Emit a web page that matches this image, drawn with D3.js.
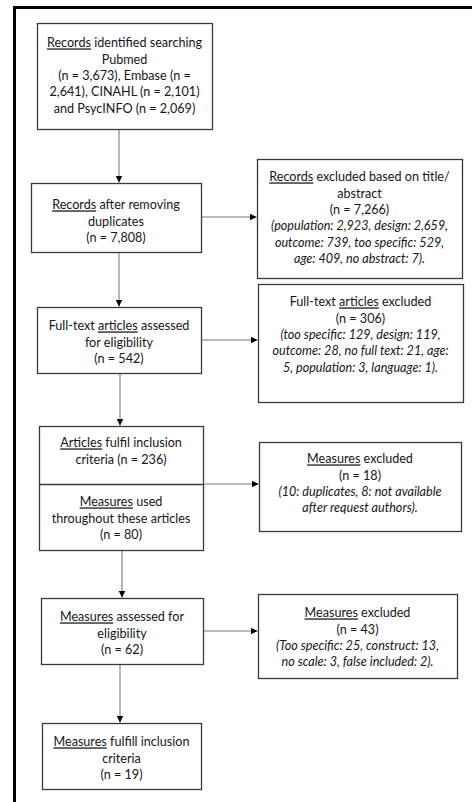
<!DOCTYPE html>
<html>
<head>
<meta charset="utf-8">
<script src="https://cdn.jsdelivr.net/npm/d3@7/dist/d3.min.js"></script>
<style>
  html, body { margin: 0; padding: 0; background: #fff; }
  svg { display: block; }
  text { font-family: Lato, "Open Sans", sans-serif; font-size: 12.6px; fill: #161616; }
</style>
</head>
<body>
<svg id="chart" width="472" height="802"></svg>
<script>
// ---- Data: box texts (markup: _word_ = underlined, lines starting with "~" = italic)
const searchSources = ["Pubmed", "Embase", "CINAHL", "PsycINFO"];
const searchCounts = ["3,673", "2,641", "2,101", "2,069"];
const stageCounts = ["7,808", "542", "236", "80", "62", "19"];
const excludedCounts = ["7,266", "306", "18", "43"];

const mainTexts = [
  ["_Records_ identified searching", "Pubmed", "(n = 3,673), Embase (n =", "2,641), CINAHL (n = 2,101)", "and PsycINFO (n = 2,069)"],
  ["_Records_ after removing", "duplicates", "(n = 7,808)"],
  ["Full-text _articles_ assessed", "for eligibility", "(n = 542)"],
  ["_Articles_ fulfil inclusion", "criteria (n = 236)"],
  ["_Measures_ assessed for", "eligibility", "(n = 62)"],
  ["_Measures_ fulfill inclusion", "criteria", "(n = 19)"]
];
const subTexts = [
  ["_Measures_ used", "throughout these articles", "(n = 80)"]
];
const sideTexts = [
  ["_Records_ excluded based on title/", "abstract", "(n = 7,266)",
   "~(population: 2,923, design: 2,659,", "~outcome: 739, too specific: 529,", "~age: 409, no abstract: 7)."],
  ["Full-text _articles_ excluded", "(n = 306)",
   "~(too specific: 129, design: 119,", "~outcome: 28, no full text: 21, age:", "~5, population: 3, language: 1)."],
  ["_Measures_ excluded", "(n = 18)", "~(10: duplicates, 8: not available", "~after request authors)."],
  ["_Measures_ excluded", "(n = 43)", "~(Too specific: 25, construct: 13,", "~no scale: 3, false included: 2)."]
];

// ---- Layout (positions/sizes kept separate from data)
const mainLayout = [
  {x: 37, y: 23,  w: 175, h: 106, t: 43},
  {x: 31, y: 183, w: 170, h: 69,  t: 205},
  {x: 37, y: 307, w: 164, h: 66,  t: 326},
  {x: 39, y: 426, w: 164, h: 124, t: 443, divider: 484, sub: 502},
  {x: 41, y: 598, w: 162, h: 66,  t: 617},
  {x: 42, y: 723, w: 159, h: 66,  t: 742}
];
const sideLayout = [
  {x: 257, y: 159, w: 205, h: 119, t: 177, from: 1, ay: 217},
  {x: 258, y: 284, w: 205, h: 118, t: 302, from: 2, ay: 340},
  {x: 259, y: 442, w: 202, h: 89,  t: 459, from: 3, ay: 484},
  {x: 258, y: 594, w: 199, h: 84,  t: 613, from: 4, ay: 631}
];
const downX = [119, 119, 120, 122, 120];
const LH = 16.3;

const svg = d3.select("#chart");

// outer frame (cropped at right/bottom)
svg.append("path")
  .attr("d", d3.line()([[14.5, 802], [14.5, 7.5], [472, 7.5]]))
  .attr("fill", "none").attr("stroke", "#000").attr("stroke-width", 3);

// arrow marker
svg.append("defs").append("marker")
  .attr("id", "arr").attr("viewBox", "0 0 10 10")
  .attr("refX", 10).attr("refY", 5)
  .attr("markerWidth", 7).attr("markerHeight", 7)
  .attr("markerUnits", "userSpaceOnUse")
  .attr("orient", "auto")
  .append("path").attr("d", "M0,0L10,5L0,10Z").attr("fill", "#000");

const line = d3.line();
const conn = svg.append("g").attr("fill", "none").attr("stroke", "#7a7a7a").attr("stroke-width", 1.1);

// vertical arrows
downX.forEach((x, i) => {
  const a = mainLayout[i], b = mainLayout[i + 1];
  conn.append("path").attr("d", line([[x, a.y + a.h], [x, b.y - 0.5]])).attr("marker-end", "url(#arr)");
});
// horizontal arrows
sideLayout.forEach(s => {
  const a = mainLayout[s.from];
  conn.append("path").attr("d", line([[a.x + a.w, s.ay], [s.x - 0.5, s.ay]])).attr("marker-end", "url(#arr)");
});

function drawLines(g, lines, cx, y0) {
  lines.forEach((ln, i) => {
    let italic = false;
    if (ln.startsWith("~")) { italic = true; ln = ln.slice(1); }
    const t = g.append("text")
      .attr("x", cx).attr("y", y0 + i * LH).attr("dy", "0.35em")
      .attr("text-anchor", "middle")
      .style("font-style", italic ? "italic" : "normal");
    const parts = ln.split(/(_[^_]+_)/).filter(p => p.length);
    parts.forEach(p => {
      const u = p.startsWith("_") && p.endsWith("_");
      t.append("tspan").text(u ? p.slice(1, -1) : p)
        .style("text-decoration", u ? "underline" : "none");
    });
  });
}

function drawBox(b) {
  svg.append("rect")
    .attr("x", b.x + 0.5).attr("y", b.y + 0.5).attr("width", b.w).attr("height", b.h)
    .attr("fill", "#fff").attr("stroke", "#3a3a3a").attr("stroke-width", 1.3);
}

mainLayout.forEach((b, i) => {
  drawBox(b);
  const cx = b.x + b.w / 2;
  drawLines(svg, mainTexts[i], cx, b.t);
  if (b.divider) {
    svg.append("path").attr("d", line([[b.x, b.divider + 0.5], [b.x + b.w, b.divider + 0.5]]))
      .attr("stroke", "#3a3a3a").attr("stroke-width", 1.3);
    drawLines(svg, subTexts[0], cx, b.sub);
  }
});
sideLayout.forEach((b, i) => {
  drawBox(b);
  drawLines(svg, sideTexts[i], b.x + b.w / 2, b.t);
});
</script>
</body>
</html>
